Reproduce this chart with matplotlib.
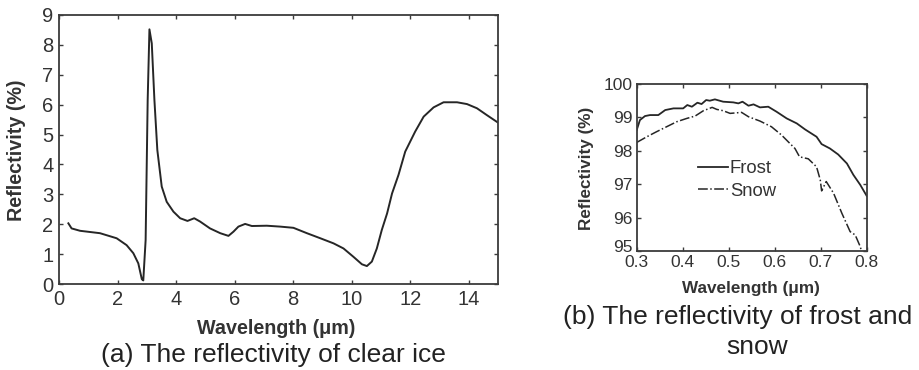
import matplotlib
matplotlib.use("Agg")
import matplotlib.pyplot as plt
import matplotlib.transforms as mtransforms

# Panel (a): clear ice
ice_wl = [0.32, 0.43, 0.72, 1.4, 1.97, 2.31, 2.54, 2.71, 2.83, 2.88, 2.96, 3.03, 3.09, 3.17,
          3.26, 3.36, 3.51, 3.68, 3.91, 4.14, 4.39, 4.62, 4.82, 5.16, 5.51, 5.79, 5.96, 6.13,
          6.36, 6.59, 7.1, 7.56, 8.01, 8.47, 8.93, 9.38, 9.72, 10.06, 10.35, 10.52, 10.69,
          10.86, 11.03, 11.21, 11.38, 11.6, 11.83, 12.17, 12.46, 12.8, 13.14, 13.6, 13.94,
          14.28, 14.62, 15.0]
ice_refl = [2.03, 1.86, 1.78, 1.70, 1.53, 1.30, 1.03, 0.69, 0.16, 0.12, 1.47, 6.16, 8.52, 8.05,
            6.16, 4.48, 3.26, 2.75, 2.42, 2.20, 2.11, 2.20, 2.09, 1.86, 1.70, 1.61, 1.75, 1.92,
            2.01, 1.94, 1.95, 1.92, 1.88, 1.70, 1.53, 1.36, 1.19, 0.91, 0.66, 0.60, 0.75,
            1.19, 1.81, 2.36, 3.03, 3.65, 4.43, 5.10, 5.60, 5.91, 6.08, 6.08, 6.02,
            5.88, 5.65, 5.40]

# Panel (b): frost and snow
frost_wl = [0.3, 0.307, 0.318, 0.329, 0.347, 0.362, 0.38, 0.401, 0.41, 0.42, 0.432, 0.441,
            0.451, 0.459, 0.47, 0.488, 0.51, 0.521, 0.53, 0.543, 0.554, 0.568, 0.586, 0.604,
            0.626, 0.648, 0.666, 0.691, 0.702, 0.72, 0.738, 0.757, 0.771, 0.786, 0.8]
frost_refl = [98.62, 98.92, 99.04, 99.07, 99.07, 99.22, 99.27, 99.27, 99.37, 99.32, 99.44, 99.40,
              99.52, 99.50, 99.54, 99.47, 99.45, 99.42, 99.47, 99.35, 99.39, 99.30, 99.32, 99.17,
              98.97, 98.82, 98.64, 98.42, 98.20, 98.07, 97.89, 97.62, 97.28, 96.98, 96.65]
snow_wl = [0.3, 0.322, 0.343, 0.365, 0.387, 0.409, 0.427, 0.445, 0.464, 0.474, 0.488, 0.503,
           0.528, 0.543, 0.568, 0.593, 0.615, 0.633, 0.644, 0.654, 0.673, 0.691, 0.699, 0.702,
           0.712, 0.728, 0.746, 0.764, 0.775, 0.786, 0.789]
snow_refl = [98.25, 98.42, 98.57, 98.72, 98.87, 98.97, 99.04, 99.20, 99.30, 99.24, 99.20, 99.12,
             99.15, 99.02, 98.89, 98.72, 98.47, 98.22, 98.07, 97.82, 97.76, 97.52, 97.13, 96.80,
             97.08, 96.73, 96.13, 95.58, 95.48, 95.13, 94.98]

xticks_a = [0, 2, 4, 6, 8, 10, 12, 14]
yticks_a = [0, 1, 2, 3, 4, 5, 6, 7, 8, 9]
xticks_b = [0.3, 0.4, 0.5, 0.6, 0.7, 0.8]
xticklabels_b = ['0.3', '0.4', '0.5', '0.6', '0.7', '0.8']
yticks_b = [95, 96, 97, 98, 99, 100]

plt.rcParams['font.family'] = ['Liberation Sans', 'DejaVu Sans']
TXT = '#333333'
LINE = '#262626'
SPINE = '#3c3c3c'

fig = plt.figure(figsize=(9.19, 3.70), dpi=100)
W, H = 919, 370

def style(ax, fs, pad):
    for s in ax.spines.values():
        s.set_color(SPINE)
        s.set_linewidth(1.3)
    ax.tick_params(direction='in', length=3, width=1.0, color=SPINE, labelcolor=TXT,
                   labelsize=fs, top=True, right=True, pad=pad)

axa = fig.add_axes([59/W, 1-284/H, (498-59)/W, (284-15)/H])
axa.plot(ice_wl, ice_refl, color=LINE, lw=1.4)
axa.set_xlim(0, 15)
axa.set_ylim(0, 9)
axa.set_xticks(xticks_a)
axa.set_yticks(yticks_a)
style(axa, 14.5, 4)

axb = fig.add_axes([636.7/W, 1-251/H, (866.7-636.7)/W, (251-84)/H])
axb.plot(frost_wl, frost_refl, color=LINE, lw=1.3, ls='-', label='Frost')
axb.plot(snow_wl, snow_refl, color=LINE, lw=1.1, ls='-.', label='Snow')
axb.set_xlim(0.3, 0.8)
axb.set_ylim(95, 100)
axb.set_xticks(xticks_b)
axb.set_xticklabels(xticklabels_b)
axb.set_yticks(yticks_b)
style(axb, 12.5, 3)
# lift the lowest y label slightly, as in the reference
lbl95 = axb.get_yticklabels()[0]
lbl95.set_transform(lbl95.get_transform() +
                    mtransforms.ScaledTranslation(0, 5/100, fig.dpi_scale_trans))
axb.legend(loc='upper left', bbox_to_anchor=((698-636.7)/230, (251-160)/167), frameon=False,
           fontsize=13.3, handlelength=1.6, handletextpad=0.12, labelspacing=0.3, borderpad=0,
           borderaxespad=0, labelcolor=TXT)

fig.text(276/W, 1-328/H, 'Wavelength (μm)', ha='center', va='center', fontsize=14.2,
         fontweight='bold', color=TXT)
fig.text(17/W, 1-150/H, 'Reflectivity (%)', ha='center', va='center', fontsize=14.2,
         fontweight='bold', color=TXT, rotation=90)
fig.text(273/W, 1-355/H, '(a) The reflectivity of clear ice', ha='center', va='center',
         fontsize=19, color='#222222')

fig.text(751/W, 1-288/H, 'Wavelength (μm)', ha='center', va='center', fontsize=12.3,
         fontweight='bold', color=TXT)
fig.text(587/W, 1-168/H, 'Reflectivity (%)', ha='center', va='center', fontsize=12.3,
         fontweight='bold', color=TXT, rotation=90)
fig.text(738/W, 1-317/H, '(b) The reflectivity of frost and', ha='center', va='center',
         fontsize=19, color='#222222')
fig.text(757/W, 1-347/H, 'snow', ha='center', va='center', fontsize=19, color='#222222')

fig.savefig('out.png', dpi=100)
